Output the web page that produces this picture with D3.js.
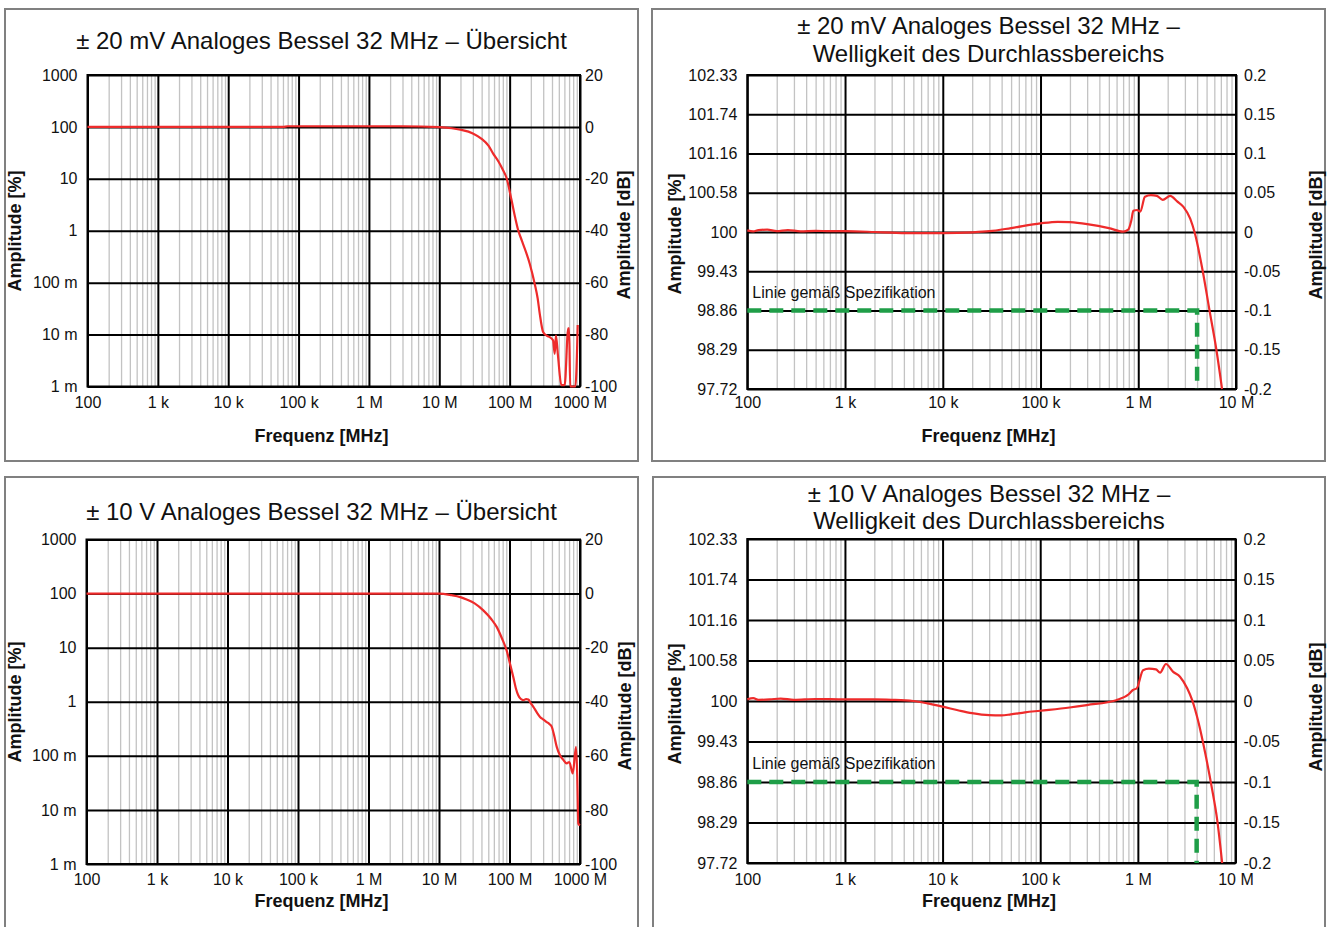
<!DOCTYPE html>
<html lang="de">
<head>
<meta charset="UTF-8" />
<title>Analoges Bessel 32 MHz</title>
<script src="https://cdn.jsdelivr.net/npm/d3@7"></script>
<style>
  body { margin: 0; background: #fff; }
  svg { display: block; font-family: "Liberation Sans", Arial, sans-serif; }
  .frame { fill: #fff; stroke: #808080; stroke-width: 2; }
  .title { font-size: 24px; fill: #111; }
  .axis-title { font-size: 18px; font-weight: bold; fill: #111; }
  .tick-label { font-size: 16px; fill: #111; }
  .spec-label { font-size: 16px; fill: #111; }
</style>
</head>
<body>
<svg id="chart" width="1332" height="927"></svg>
<script>
// frequency [Hz], amplitude [dB]
var overview20mV = [
  [100, 0], [60000, 0], [70000, 0.25], [3000000, 0.25], [10000000, -0.1],
  [15000000, -0.5], [20000000, -1.1], [30000000, -2.5], [40000000, -4.6],
  [50000000, -7.2], [58000000, -10.2], [70000000, -13.5], [80000000, -16.5],
  [90000000, -19.5], [106000000, -28], [120000000, -35], [132000000, -39.7],
  [150000000, -44], [193000000, -52.7], [227000000, -60.4], [250000000, -66],
  [268000000, -72], [299000000, -79], [340000000, -80.5], [372000000, -81],
  [414000000, -82.2], [437000000, -87.4], [455000000, -80.3], [486000000, -88],
  [543000000, -99.5], [605000000, -99.5], [680000000, -77.6], [700000000, -77.6],
  [726000000, -100], [860000000, -100], [928000000, -76.3]
];
var overview10V = [
  [100, 0], [10000000, 0], [15000000, -0.6], [20000000, -1.3], [24700000, -2.2],
  [32000000, -3.6], [42500000, -6.2], [55000000, -9.4], [65800000, -12.3],
  [78000000, -16.5], [91000000, -21], [103000000, -26.5], [113000000, -30.8],
  [123000000, -35], [133000000, -37.6], [145000000, -39], [157000000, -39.4],
  [172000000, -39], [185000000, -39.2], [200000000, -40.5], [218000000, -41.9],
  [245000000, -44], [271000000, -45.6], [300000000, -46.5], [337000000, -47.5],
  [370000000, -48.3], [398000000, -49.3], [430000000, -52.5], [468000000, -56.7],
  [520000000, -59.8], [580000000, -61.5], [647000000, -62.8], [705000000, -62.3],
  [790000000, -66.5], [877000000, -56.7], [915000000, -67.8], [946000000, -85],
  [1000000000, -85.7]
];
var ripple20mV = [
  [100, 0.002], [115, 0.0008], [130, 0.0025], [160, 0.003], [200, 0.001], [260, 0.0025],
  [350, 0.0008], [500, 0.0015], [700, 0.001], [1000, 0.001], [2000, 0],
  [3000, -0.0008], [5000, -0.0015], [10000, -0.0015], [20000, -0.0005],
  [30000, 0.001], [50000, 0.005], [100000, 0.011], [150000, 0.013],
  [200000, 0.0125], [300000, 0.01], [500000, 0.005], [700000, 0.0005],
  [790000, 0.003], [850000, 0.015], [890000, 0.027], [975000, 0.028],
  [1050000, 0.026], [1170000, 0.045], [1350000, 0.047], [1550000, 0.046],
  [1780000, 0.041], [2120000, 0.046], [2500000, 0.039], [2900000, 0.032],
  [3400000, 0.017], [3800000, -0.002], [4570000, -0.05], [5360000, -0.1],
  [6300000, -0.15], [7200000, -0.2]
];
var ripple10V = [
  [100, 0.002], [115, 0.0035], [130, 0.0015], [170, 0.002], [220, 0.003], [300, 0.0015],
  [500, 0.0025], [1000, 0.002], [2000, 0.002], [3000, 0.0015], [5000, 0],
  [7000, -0.003], [10000, -0.007], [15000, -0.012], [20000, -0.015],
  [30000, -0.0175], [40000, -0.0178], [50000, -0.0165], [70000, -0.014],
  [100000, -0.012], [200000, -0.008], [300000, -0.005], [600000, 0.001],
  [800000, 0.008], [890000, 0.0136], [975000, 0.0157], [1130000, 0.038], [1300000, 0.04],
  [1530000, 0.039], [1690000, 0.035], [1940000, 0.0457], [2300000, 0.036],
  [2700000, 0.03], [3200000, 0.0157], [3600000, 0.001], [4200000, -0.0275],
  [4900000, -0.0646], [5700000, -0.106], [6500000, -0.147], [7300000, -0.2]
];

var overviewDbTicks = [20, 0, -20, -40, -60, -80, -100];
var overviewPctLabels = ["1000", "100", "10", "1", "100 m", "10 m", "1 m"];
var overviewFreqTicks = [1e2, 1e3, 1e4, 1e5, 1e6, 1e7, 1e8, 1e9];
var overviewFreqLabels = ["100", "1 k", "10 k", "100 k", "1 M", "10 M", "100 M", "1000 M"];

var rippleDbTicks = [0.2, 0.15, 0.1, 0.05, 0, -0.05, -0.1, -0.15, -0.2];
var ripplePctLabels = ["102.33", "101.74", "101.16", "100.58", "100", "99.43", "98.86", "98.29", "97.72"];
var rippleFreqTicks = [1e2, 1e3, 1e4, 1e5, 1e6, 1e7];
var rippleFreqLabels = ["100", "1 k", "10 k", "100 k", "1 M", "10 M"];

var specLimit = [[100, -0.1], [4000000, -0.1], [4000000, -0.2]];
var specText = "Linie gemäß Spezifikation";

var panels = [
  { frame: [5, 9, 633, 452], left: 87.5, top: 75, right: 580, bottom: 386.5,
    titles: ["± 20 mV Analoges Bessel 32 MHz – Übersicht"], titleY: [48.5],
    data: overview20mV, yDomain: [-100, 20], yTicks: overviewDbTicks, yLabels: overviewPctLabels,
    xTicks: overviewFreqTicks, xLabels: overviewFreqLabels, rightPad: 5,
    xLabelY: 408, xTitleY: 442, leftTitleX: 21, rightTitleX: 630, leftTitleY: 231, rightTitleY: 235 },
  { frame: [652, 9, 673, 452], left: 747.3, top: 75, right: 1236, bottom: 389,
    titles: ["± 20 mV Analoges Bessel 32 MHz –", "Welligkeit des Durchlassbereichs"], titleY: [33.5, 61.5],
    data: ripple20mV, yDomain: [-0.2, 0.2], yTicks: rippleDbTicks, yLabels: ripplePctLabels,
    xTicks: rippleFreqTicks, xLabels: rippleFreqLabels, rightPad: 8, spec: true,
    xLabelY: 408, xTitleY: 442, leftTitleX: 681, rightTitleX: 1322, leftTitleY: 234, rightTitleY: 235 },
  { frame: [5, 477, 633, 470], left: 86.5, top: 539.5, right: 580, bottom: 864,
    titles: ["± 10 V Analoges Bessel 32 MHz – Übersicht"], titleY: [519.5],
    data: overview10V, yDomain: [-100, 20], yTicks: overviewDbTicks, yLabels: overviewPctLabels,
    xTicks: overviewFreqTicks, xLabels: overviewFreqLabels, rightPad: 5,
    xLabelY: 885, xTitleY: 906.5, leftTitleX: 21, rightTitleX: 631, leftTitleY: 702, rightTitleY: 706 },
  { frame: [653, 477, 672, 470], left: 747.3, top: 539, right: 1235.5, bottom: 863,
    titles: ["± 10 V Analoges Bessel 32 MHz –", "Welligkeit des Durchlassbereichs"], titleY: [502, 529],
    data: ripple10V, yDomain: [-0.2, 0.2], yTicks: rippleDbTicks, yLabels: ripplePctLabels,
    xTicks: rippleFreqTicks, xLabels: rippleFreqLabels, rightPad: 8, spec: true,
    xLabelY: 885, xTitleY: 906.5, leftTitleX: 681, rightTitleX: 1322, leftTitleY: 704, rightTitleY: 707 }
];

var svg = d3.select("#chart");

panels.forEach(drawPanel);

function drawPanel(p) {
  var g = svg.append("g");
  var h = p.bottom - p.top;
  var w = p.right - p.left;
  var cx = p.frame[0] + p.frame[2] / 2;

  g.append("rect").attr("class", "frame")
    .attr("x", p.frame[0]).attr("y", p.frame[1])
    .attr("width", p.frame[2]).attr("height", p.frame[3]);

  var x = d3.scaleLog().domain([p.xTicks[0], p.xTicks[p.xTicks.length - 1]]).range([p.left, p.right]);
  var y = d3.scaleLinear().domain(p.yDomain).range([p.bottom, p.top]);

  // minor verticals 2..9 per decade
  var minor = [];
  p.xTicks.slice(0, -1).forEach(function (d) {
    for (var k = 2; k < 10; k++) minor.push(d * k);
  });
  g.append("g")
    .attr("transform", "translate(0," + p.bottom + ")")
    .call(d3.axisBottom(x).tickValues(minor).tickSize(-h).tickFormat(""))
    .call(function (a) { a.select(".domain").remove(); })
    .selectAll("line").attr("stroke", "#c3c3c3").attr("stroke-width", 1.3);

  // major verticals
  g.append("g")
    .attr("transform", "translate(0," + p.bottom + ")")
    .call(d3.axisBottom(x).tickValues(p.xTicks).tickSize(-h).tickFormat(""))
    .call(function (a) { a.select(".domain").remove(); })
    .selectAll("line").attr("stroke", "#000").attr("stroke-width", 2);

  // horizontals
  g.append("g")
    .attr("transform", "translate(" + p.left + ",0)")
    .call(d3.axisLeft(y).tickValues(p.yTicks).tickSize(-w).tickFormat(""))
    .call(function (a) { a.select(".domain").remove(); })
    .selectAll("line").attr("stroke", "#000").attr("stroke-width", 2);

  g.append("rect")
    .attr("x", p.left).attr("y", p.top).attr("width", w).attr("height", h)
    .attr("fill", "none").attr("stroke", "#000").attr("stroke-width", 2);

  // tick labels
  var leftAxis = g.append("g")
    .attr("transform", "translate(" + p.left + ",0)")
    .call(d3.axisLeft(y).tickValues(p.yTicks).tickSize(0).tickPadding(10)
      .tickFormat(function (d, i) { return p.yLabels[i]; }));
  var rightAxis = g.append("g")
    .attr("transform", "translate(" + p.right + ",0)")
    .call(d3.axisRight(y).tickValues(p.yTicks).tickSize(0).tickPadding(p.rightPad)
      .tickFormat(function (d) { return d < 0 ? "-" + Math.abs(d) : String(d); }));
  var bottomAxis = g.append("g")
    .attr("transform", "translate(0," + p.bottom + ")")
    .call(d3.axisBottom(x).tickValues(p.xTicks).tickSize(0).tickPadding(p.xLabelY - p.bottom - 11.4)
      .tickFormat(function (d, i) { return p.xLabels[i]; }));
  [leftAxis, rightAxis, bottomAxis].forEach(function (a) {
    a.select(".domain").remove();
    a.attr("font-size", null).attr("font-family", null);
    a.selectAll("text").attr("class", "tick-label");
  });

  // spec limit
  if (p.spec) {
    g.append("path")
      .datum(specLimit)
      .attr("fill", "none")
      .attr("stroke", "#1f9e48")
      .attr("stroke-width", 4.5)
      .attr("stroke-dasharray", "14,8")
      .attr("d", d3.line().x(function (d) { return x(d[0]); }).y(function (d) { return y(d[1]); }));
    g.append("text").attr("class", "spec-label")
      .attr("x", p.left + 5).attr("y", y(specLimit[0][1]) - 13)
      .text(specText);
  }

  // measured curve
  g.append("path")
    .datum(p.data)
    .attr("fill", "none")
    .attr("stroke", "#ee2b2b")
    .attr("stroke-width", 2.2)
    .attr("stroke-linejoin", "round")
    .attr("d", d3.line()
      .curve(d3.curveMonotoneX)
      .x(function (d) { return x(d[0]); })
      .y(function (d) { return y(d[1]); }));

  // titles
  p.titles.forEach(function (t, i) {
    g.append("text").attr("class", "title")
      .attr("x", cx).attr("y", p.titleY[i])
      .attr("text-anchor", "middle").text(t);
  });
  g.append("text").attr("class", "axis-title")
    .attr("x", cx).attr("y", p.xTitleY)
    .attr("text-anchor", "middle").text("Frequenz [MHz]");
  g.append("text").attr("class", "axis-title")
    .attr("transform", "translate(" + p.leftTitleX + "," + p.leftTitleY + ") rotate(-90)")
    .attr("text-anchor", "middle").text("Amplitude [%]");
  g.append("text").attr("class", "axis-title")
    .attr("transform", "translate(" + p.rightTitleX + "," + p.rightTitleY + ") rotate(-90)")
    .attr("text-anchor", "middle").text("Amplitude [dB]");
}
</script>
</body>
</html>
